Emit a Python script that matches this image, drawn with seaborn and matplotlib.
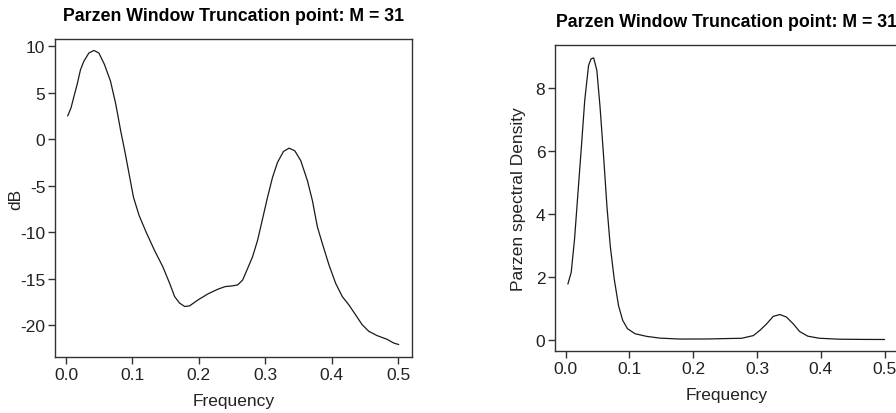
import matplotlib
matplotlib.use('Agg')
import matplotlib.pyplot as plt
import seaborn as sns
import pandas as pd

freq_db = [0.0025, 0.0076, 0.0127, 0.0167, 0.0218, 0.0268, 0.0344, 0.042, 0.0495,
           0.058, 0.067, 0.075, 0.0823, 0.0884, 0.095, 0.1015, 0.110, 0.1205,
           0.133, 0.1458, 0.156, 0.1635, 0.171, 0.1787, 0.186, 0.199, 0.214,
           0.229, 0.2395, 0.2496, 0.2585, 0.266, 0.2735, 0.281, 0.2885, 0.296,
           0.3035, 0.311, 0.3185, 0.3275, 0.336, 0.3445, 0.3535, 0.3635, 0.371,
           0.3785, 0.386, 0.396, 0.406, 0.416, 0.426, 0.436, 0.446, 0.456,
           0.4685, 0.4835, 0.4935, 0.501]
spec_db = [2.52, 3.41, 4.83, 5.9, 7.5, 8.4, 9.29, 9.57, 9.29,
           8.04, 6.26, 3.77, 0.92, -1.22, -3.72, -6.2, -8.17, -9.95,
           -11.9, -13.7, -15.47, -16.9, -17.6, -17.97, -17.9, -17.25, -16.6,
           -16.1, -15.83, -15.76, -15.65, -15.12, -13.87, -12.6, -10.84, -8.53,
           -6.2, -4.07, -2.47, -1.29, -0.94, -1.22, -2.29, -4.43, -6.57,
           -9.4, -11.2, -13.5, -15.47, -16.9, -17.8, -18.86, -19.93, -20.64,
           -21.1, -21.5, -21.9, -22.06]

freq_lin = [0.0036, 0.0088, 0.014, 0.019, 0.0244, 0.030, 0.036, 0.040, 0.044,
            0.049, 0.054, 0.0596, 0.0648, 0.070, 0.0762, 0.083, 0.0896, 0.097,
            0.1088, 0.127, 0.1477, 0.179, 0.22, 0.276, 0.2943, 0.3047, 0.315,
            0.3254, 0.3358, 0.3461, 0.3565, 0.3668, 0.3798, 0.398, 0.429, 0.47, 0.5]
spec_lin = [1.77, 2.14, 3.19, 4.56, 6.03, 7.61, 8.72, 8.93, 8.96,
            8.56, 7.4, 5.82, 4.24, 2.98, 1.93, 1.08, 0.61, 0.35,
            0.19, 0.105, 0.05, 0.02, 0.022, 0.045, 0.13, 0.3, 0.5,
            0.74, 0.8, 0.72, 0.51, 0.26, 0.11, 0.045, 0.015, 0.008, 0.006]

TITLE = 'Parzen Window Truncation point: M = 31'

sns.set_style('ticks')
plt.rcParams['font.family'] = ['Liberation Sans', 'DejaVu Sans']
plt.rcParams['text.color'] = '#222222'
plt.rcParams['axes.labelcolor'] = '#222222'
plt.rcParams['xtick.color'] = '#333333'
plt.rcParams['ytick.color'] = '#333333'
plt.rcParams['xtick.labelcolor'] = '#222222'
plt.rcParams['ytick.labelcolor'] = '#222222'

FS = 12.5

fig = plt.figure(figsize=(8.96, 4.14), dpi=100)
ax1 = fig.add_axes([55 / 896, 56 / 414, 357 / 896, 318 / 414])
ax2 = fig.add_axes([555 / 896, 62 / 414, 343 / 896, 306 / 414])

df_db = pd.DataFrame({'Frequency': freq_db, 'dB': spec_db})
df_lin = pd.DataFrame({'Frequency': freq_lin, 'Parzen spectral Density': spec_lin})

sns.lineplot(data=df_db, x='Frequency', y='dB', ax=ax1, color='#1a1a1a', lw=0.9)
sns.lineplot(data=df_lin, x='Frequency', y='Parzen spectral Density', ax=ax2,
             color='#1a1a1a', lw=0.9)

ax1.set_xlim(-0.0166, 0.521)
ax1.set_ylim(-23.4, 10.8)
ax1.set_yticks([10, 5, 0, -5, -10, -15, -20])
ax1.set_yticklabels(['10', '5', '0', '-5', '-10', '-15', '-20'])

ax2.set_xlim(-0.0166, 0.521)
ax2.set_ylim(-0.36, 9.37)
ax2.set_yticks([0, 2, 4, 6, 8])

for ax in (ax1, ax2):
    ax.set_xticks([0.0, 0.1, 0.2, 0.3, 0.4, 0.5])
    ax.set_xticklabels(['0.0', '0.1', '0.2', '0.3', '0.4', '0.5'])
    ax.tick_params(direction='out', length=5, width=1, labelsize=FS, pad=2)
    for sp in ax.spines.values():
        sp.set_visible(True)
        sp.set_color('#333333')
        sp.set_linewidth(1.0)
    ax.set_title(TITLE, fontsize=12.8, fontweight='bold', color='black', pad=14)
    ax.xaxis.label.set_size(FS)
    ax.yaxis.label.set_size(FS)
    ax.xaxis.labelpad = 8

ax1.yaxis.set_label_coords(-0.09, 0.5)
ax2.yaxis.set_label_coords(-0.085, 0.5)

fig.savefig('out.png', dpi=100)
